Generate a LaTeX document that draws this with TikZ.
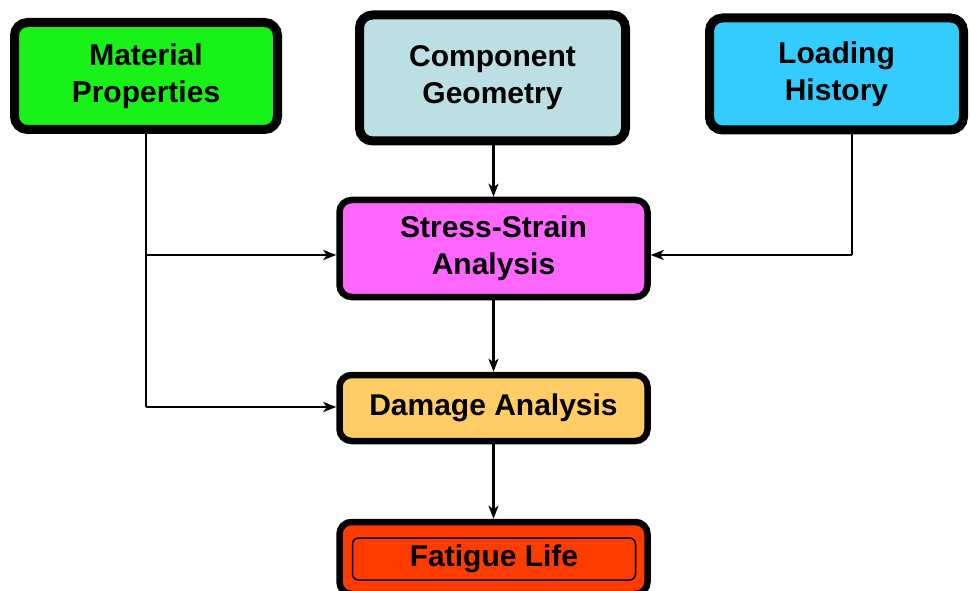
\documentclass[tikz,border=0pt]{standalone}
\usepackage{fontspec}
\setmainfont{Liberation Sans}
\usetikzlibrary{arrows.meta}
\definecolor{cgreen}{RGB}{24,242,24}
\definecolor{cgeom}{RGB}{188,223,228}
\definecolor{cload}{RGB}{52,204,255}
\definecolor{cstress}{RGB}{255,102,255}
\definecolor{cdamage}{RGB}{255,204,102}
\definecolor{cfat}{RGB}{255,60,0}
\tikzset{
  topbox/.style={draw=black, line width=9pt, rounded corners=13pt, align=center,
    font=\fontsize{30}{37}\selectfont\bfseries, inner sep=0pt},
  midbox/.style={draw=black, line width=6.5pt, rounded corners=12pt, align=center,
    font=\fontsize{30}{37}\selectfont\bfseries, inner sep=0pt,
    minimum width=308pt},
  conn/.style={line width=2.7pt, -{Stealth[length=13pt,width=10pt,inset=3.5pt]}},
  plain/.style={line width=2.7pt}
}
\begin{document}
\begin{tikzpicture}[x=1pt,y=-1pt]
\useasboundingbox (0,0) rectangle (970,591);
\clip (0,0) rectangle (970,591);
\fill[white] (0,0) rectangle (970,591);
% top boxes
\node[topbox, fill=cgreen, minimum width=263pt, minimum height=107pt] (mat) at (146,76) {Material\\Properties};
\node[topbox, fill=cgeom, minimum width=266pt, minimum height=126pt] (geo) at (492.5,78) {Component\\Geometry};
\node[topbox, fill=cload, minimum width=254pt, minimum height=112pt] (load) at (836.5,74) {Loading\\History};
% middle boxes
\node[midbox, fill=cstress, minimum height=97pt] (stress) at (493.5,248.5) {Stress-Strain\\Analysis};
\node[midbox, fill=cdamage, minimum height=66pt] (damage) at (493.5,408) {Damage Analysis};
\node[midbox, fill=cfat, minimum height=72pt] (fat) at (493.5,558) {};
\node[draw=black, line width=1.5pt, rounded corners=6pt, minimum width=283pt, minimum height=42pt, inner sep=0pt,
  font=\fontsize{30}{37}\selectfont\bfseries] (fatin) at (494,559) {Fatigue Life};
% connectors
\coordinate (jm) at (146,255);
\coordinate (jl) at (852,255);
\coordinate (jd) at (146,407);
\draw[plain] (mat.south) -- (jd);
\draw[conn] (jm) -- (stress.west |- jm);
\draw[conn] (jd) -- (damage.west |- jd);
\draw[conn] (geo.south -| stress.north) -- (stress.north);
\draw[plain] (load.south -| jl) -- (jl);
\draw[conn] (jl) -- (stress.east |- jl);
\draw[conn] (stress.south) -- (damage.north);
\draw[conn] (damage.south) -- (fat.north);
\end{tikzpicture}
\end{document}
